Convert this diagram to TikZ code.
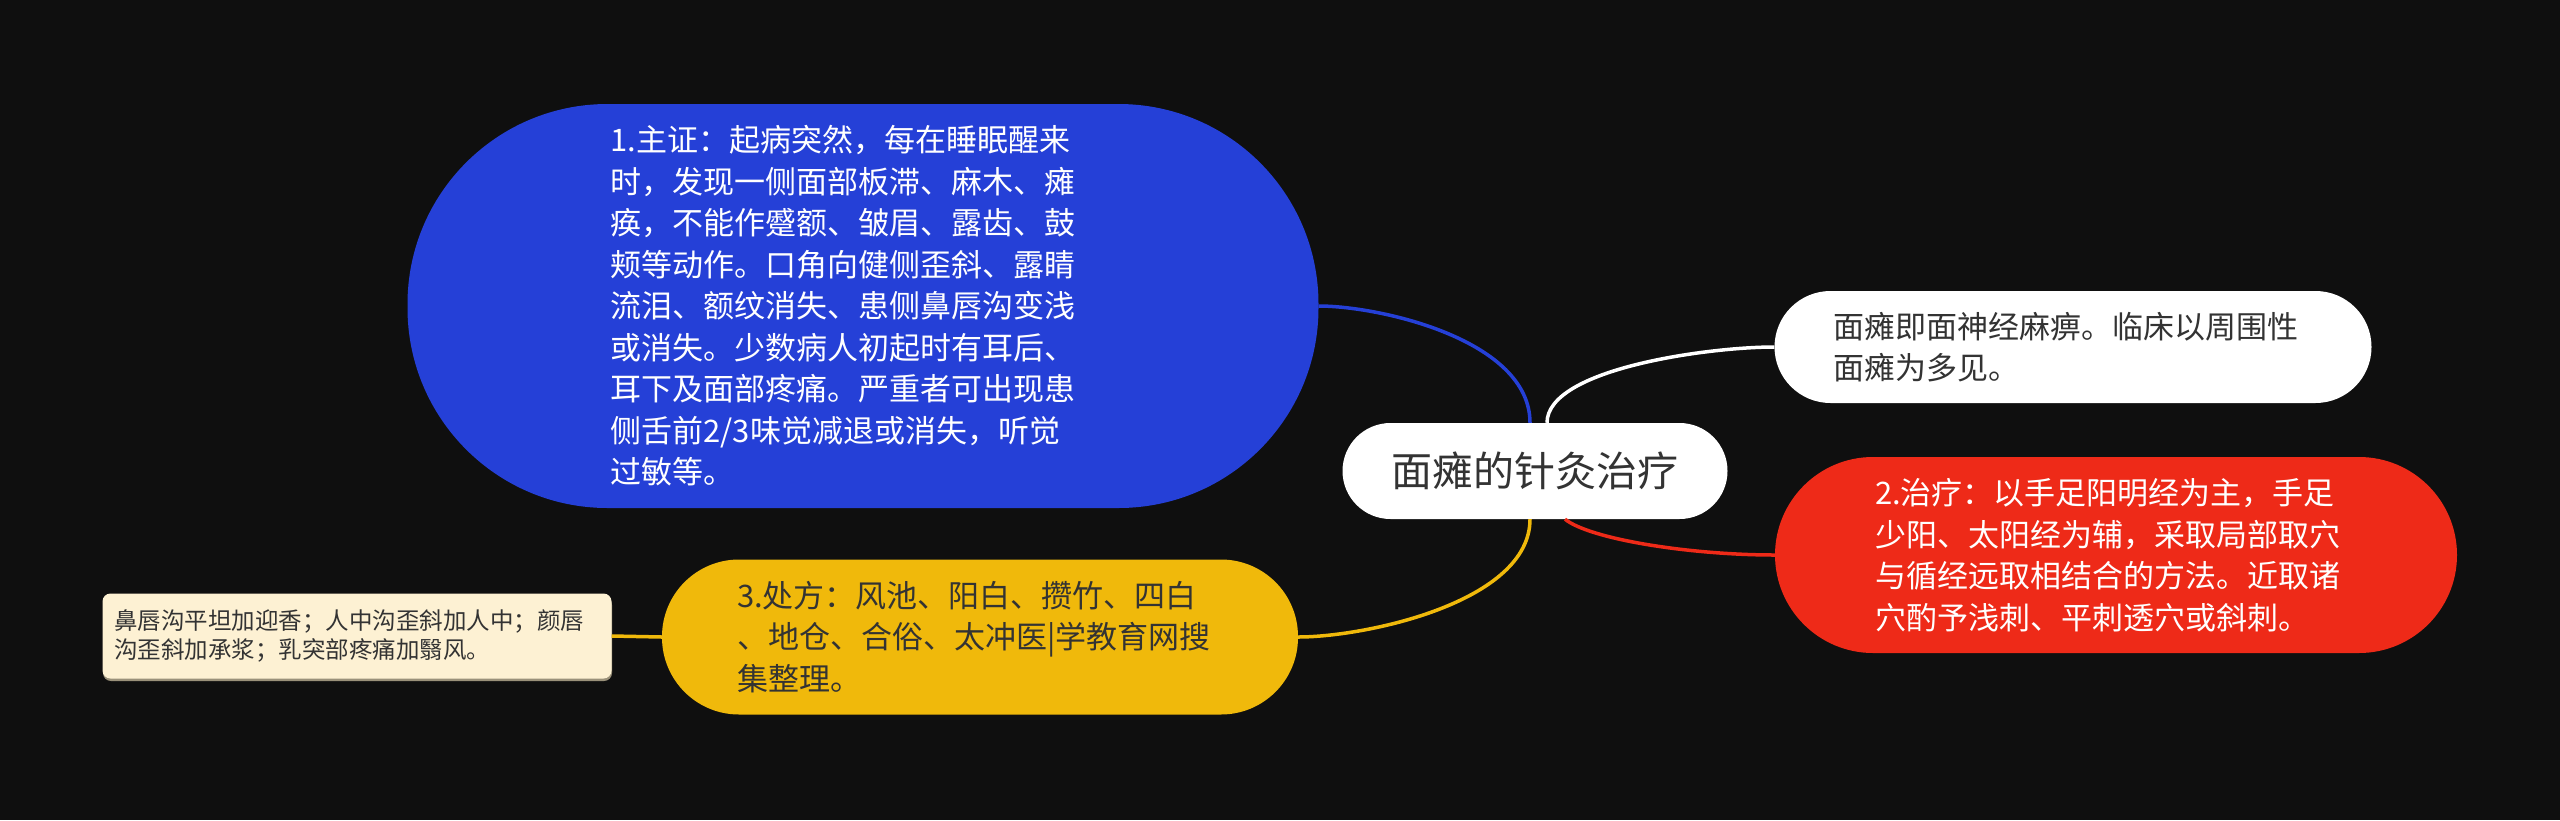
\documentclass[tikz,border=0pt]{standalone}
\usepackage{fontspec}
\setmainfont{Noto Sans CJK SC}
\usetikzlibrary{calc}
\definecolor{bg}{HTML}{0F0F0F}
\definecolor{mblue}{HTML}{2540D7}
\definecolor{mred}{HTML}{EE2A18}
\definecolor{myellow}{HTML}{F0B90B}
\definecolor{mtan}{HTML}{FDF1D3}
\definecolor{mshadow}{HTML}{9A917A}
\definecolor{txtdark}{HTML}{333333}
\newcommand\fsmain{\fontsize{31}{41.5}\selectfont}
\newcommand\fscenter{\fontsize{41}{50}\selectfont}
\newcommand\fssmall{\fontsize{23.5}{29.5}\selectfont}
\begin{document}
\begin{tikzpicture}[x=1pt,y=-1pt,
  topic/.style={align=left, inner sep=0pt, font=\fsmain},
  link/.style={line width=3.5pt},
]
\fill[bg] (0,0) rectangle (2560,820);
\useasboundingbox (0,0) rectangle (2560,820);

% tan shadow
\fill[mshadow, rounded corners=8pt] (103,597) rectangle (612,681);

\node[topic, fill=white, text=txtdark, font=\fscenter, minimum width=385pt, minimum height=96pt, rounded corners=48pt] (c) at (1535,471) {面瘫的针灸治疗};

\node[topic, fill=mblue, text=white, text width=505pt, minimum width=911pt, minimum height=404pt, rounded corners=200pt] (b) at (863,306) {1.主证：起病突然，每在睡眠醒来\\时，发现一侧面部板滞、麻木、瘫\\痪，不能作蹙额、皱眉、露齿、鼓\\颊等动作。口角向健侧歪斜、露睛\\流泪、额纹消失、患侧鼻唇沟变浅\\或消失。少数病人初起时有耳后、\\耳下及面部疼痛。严重者可出现患\\侧舌前2/3味觉减退或消失，听觉\\过敏等。};

\node[topic, fill=white, text=txtdark, text width=480pt, minimum width=597pt, minimum height=112pt, rounded corners=56pt] (w) at (2073,347) {面瘫即面神经麻痹。临床以周围性\\面瘫为多见。};

\node[topic, fill=mred, text=white, text width=482pt, minimum width=682pt, minimum height=196pt, rounded corners=98pt] (r) at (2116,555) {2.治疗：以手足阳明经为主，手足\\少阳、太阳经为辅，采取局部取穴\\与循经远取相结合的方法。近取诸\\穴酌予浅刺、平刺透穴或斜刺。};

\node[topic, fill=myellow, text=txtdark, text width=486pt, minimum width=636pt, minimum height=155pt, rounded corners=77pt] (yl) at (980,637) {3.处方：风池、阳白、攒竹、四白\\、地仓、合俗、太冲医|学教育网搜\\集整理。};

\node[topic, fill=mtan, text=txtdark, font=\fssmall, text width=486pt, minimum width=509pt, minimum height=85pt, rounded corners=8pt] (t) at (357,636) {鼻唇沟平坦加迎香；人中沟歪斜加人中；颜唇\\沟歪斜加承浆；乳突部疼痛加翳风。};

\draw[link, mblue] ($(c.north)+(-5,0)$) .. controls ($(c.north)+(-5,-83)$) and ($(b.east)+(61,0)$) .. (b.east);
\draw[link, white] ($(c.north)+(12,0)$) .. controls ($(c.north)+(12,-54)$) and ($(w.west)+(-66,0)$) .. (w.west);
\draw[link, mred] ($(c.south)+(30,0)$) .. controls ($(c.south)+(55,20)$) and ($(r.west)+(-85,0)$) .. (r.west);
\draw[link, myellow] ($(c.south)+(-5,0)$) .. controls ($(c.south)+(-5,83)$) and ($(yl.east)+(67,0)$) .. (yl.east);
\draw[link, myellow] (yl.west) -- (t.east);
\end{tikzpicture}
\end{document}
